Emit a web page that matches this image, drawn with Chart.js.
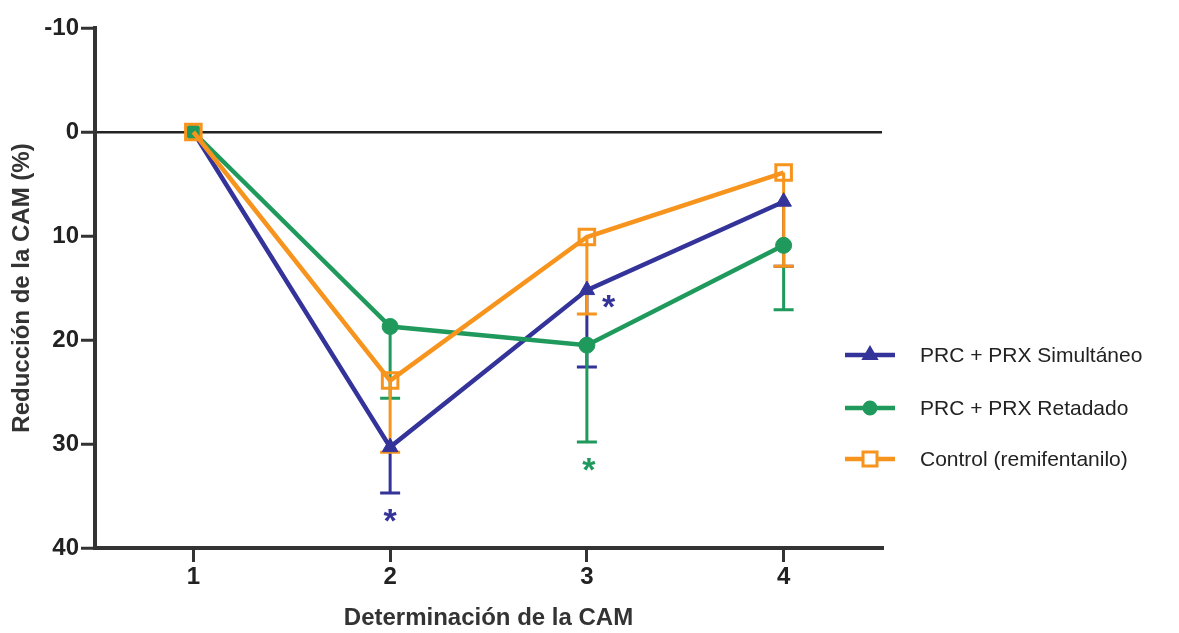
<!DOCTYPE html>
<html>
<head>
<meta charset="utf-8">
<script src="https://cdn.jsdelivr.net/npm/chart.js@4"></script>
<style>
  html, body { margin: 0; padding: 0; background: #fff; }
  #wrap { width: 1179px; height: 633px; position: relative; }
</style>
</head>
<body>
<div id="wrap"><canvas id="cam"></canvas></div>
<script>
const X_VALUES = [1, 2, 3, 4];
const X_TICKS = [1, 2, 3, 4];
const Y_TICKS = [-10, 0, 10, 20, 30, 40];

const simultaneo = [0, 30.3, 15.2, 6.7];
const simultaneoErr = [0, 4.4, 7.4, 6.2];
const retardado = [0, 18.7, 20.5, 10.9];
const retardadoErr = [0, 6.9, 9.3, 6.2];
const control = [0, 23.9, 10.1, 3.9];
const controlErr = [0, 6.9, 7.4, 9.0];

const LABELS = [`PRC + PRX Simultáneo`, `PRC + PRX Retadado`, `Control (remifentanilo)`];

// asterisks: [x, y, colour]
const starX = [2, 3.11, 3.01];
const starY = [36.9, 16.3, 32.0];
const starColor = [`#33339a`, `#33339a`, `#1f9a5c`];

const BLUE = `#33339a`;
const GREEN = `#1f9a5c`;
const ORANGE = `#f7941d`;
const AXIS = `#333333`;
const FONT = `"Liberation Sans", Arial, sans-serif`;

const toPoints = (ys) => X_VALUES.map((x, i) => ({x: x, y: ys[i]}));

const errorBars = {
  id: `errorBars`,
  beforeDatasetsDraw(chart) {
    const ctx = chart.ctx;
    const yScale = chart.scales.y;
    chart.data.datasets.forEach((ds, di) => {
      const meta = chart.getDatasetMeta(di);
      ctx.save();
      ctx.strokeStyle = ds.borderColor;
      ctx.lineWidth = 3;
      meta.data.forEach((pt, i) => {
        const err = ds.errors[i];
        if (!err) {
          return;
        }
        const yEnd = yScale.getPixelForValue(ds.data[i].y + err);
        ctx.beginPath();
        ctx.moveTo(pt.x, pt.y);
        ctx.lineTo(pt.x, yEnd);
        ctx.moveTo(pt.x - 10, yEnd);
        ctx.lineTo(pt.x + 10, yEnd);
        ctx.stroke();
      });
      ctx.restore();
    });
  }
};

const stars = {
  id: `stars`,
  afterDatasetsDraw(chart) {
    const ctx = chart.ctx;
    ctx.save();
    ctx.font = `bold 34px ${FONT}`;
    ctx.textAlign = `center`;
    ctx.textBaseline = `middle`;
    starX.forEach((x, i) => {
      ctx.fillStyle = starColor[i];
      ctx.fillText(`*`, chart.scales.x.getPixelForValue(x), chart.scales.y.getPixelForValue(starY[i]) + 7);
    });
    ctx.restore();
  }
};

const sideLegend = {
  id: `sideLegend`,
  afterDraw(chart) {
    const ctx = chart.ctx;
    const rows = [355, 408, 459];
    ctx.save();
    chart.data.datasets.forEach((ds, i) => {
      const y = rows[i];
      ctx.strokeStyle = ds.borderColor;
      ctx.lineWidth = 4.5;
      ctx.beginPath();
      ctx.moveTo(845, y);
      ctx.lineTo(895, y);
      ctx.stroke();
      ctx.fillStyle = ds.borderColor;
      ctx.lineWidth = 3;
      if (ds.pointStyle === `rect`) {
        ctx.fillStyle = `#fff`;
        ctx.fillRect(863, y - 7, 14, 14);
        ctx.strokeRect(863, y - 7, 14, 14);
      } else {
        Chart.helpers.drawPoint(ctx, {
          pointStyle: ds.pointStyle,
          radius: ds.pointStyle === `triangle` ? 7 : 6,
          rotation: 0,
          borderWidth: 1
        }, 870, y);
      }
      ctx.fillStyle = `#222`;
      ctx.font = `21px ${FONT}`;
      ctx.textBaseline = `middle`;
      ctx.fillText(LABELS[i], 920, y + 1);
    });
    ctx.restore();
  }
};

const makeSet = (label, ys, errs, color, style, radius, order) => ({
  label: label,
  data: toPoints(ys),
  errors: errs,
  borderColor: color,
  backgroundColor: color,
  borderWidth: 4.5,
  pointStyle: style,
  pointRadius: radius,
  pointBorderWidth: style === `rect` ? 3 : 1,
  pointBackgroundColor: style === `rect` ? `rgba(255,255,255,0)` : color,
  pointBorderColor: color,
  tension: 0,
  order: order,
});

new Chart(document.getElementById(`cam`), {
  type: `line`,
  data: {
    datasets: [
      makeSet(LABELS[0], simultaneo, simultaneoErr, BLUE, `triangle`, 9, 2),
      makeSet(LABELS[1], retardado, retardadoErr, GREEN, `circle`, 8, 1),
      makeSet(LABELS[2], control, controlErr, ORANGE, `rect`, 11, 0),
    ]
  },
  plugins: [errorBars, stars, sideLegend],
  options: {
    responsive: true,
    maintainAspectRatio: false,
    animation: false,
    layout: {padding: {top: 28, right: 297, bottom: 0, left: 0}},
    plugins: {legend: {display: false}, tooltip: {enabled: false}},
    scales: {
      x: {
        type: `linear`,
        min: 0.5,
        max: 4.5,
        afterBuildTicks: (scale) => {
          scale.ticks = X_TICKS.map((v) => ({value: v}));
        },
        afterFit: (scale) => {
          scale.height = 85;
        },
        border: {color: AXIS, width: 4},
        grid: {drawOnChartArea: false, color: AXIS, tickColor: AXIS, tickLength: 14, lineWidth: 3},
        ticks: {color: `#222`, font: {family: FONT, size: 24, weight: `bold`}, padding: 1},
        title: {display: true, text: `Determinación de la CAM`, color: `#333`,
          font: {family: FONT, size: 24, weight: `bold`}, padding: {top: 0, bottom: 0}}
      },
      y: {
        reverse: true,
        min: -10,
        max: 40,
        afterBuildTicks: (scale) => {
          scale.ticks = Y_TICKS.map((v) => ({value: v}));
        },
        afterFit: (scale) => {
          scale.width = 95;
        },
        border: {color: AXIS, width: 4},
        grid: {
          color: (c) => (c.tick && c.tick.value === 0 ? `#222` : `rgba(0,0,0,0)`),
          lineWidth: 2.5,
          tickColor: AXIS,
          tickLength: 14,
          tickWidth: 3
        },
        ticks: {color: `#222`, font: {family: FONT, size: 24, weight: `bold`}, padding: 2},
        title: {display: true, text: `Reducción de la CAM (%)`, color: `#333`,
          font: {family: FONT, size: 24, weight: `bold`}, padding: {top: 8, bottom: 0}}
      }
    }
  }
});
</script>
</body>
</html>
